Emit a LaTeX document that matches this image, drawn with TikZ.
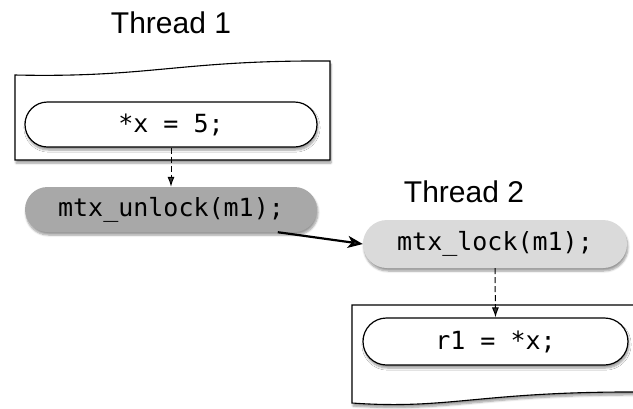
\documentclass[tikz,border=0pt]{standalone}
\usepackage{fontspec}
\setmainfont{Liberation Sans}
\setmonofont{DejaVu Sans Mono}
\usetikzlibrary{shapes.misc,shadows.blur,arrows.meta}
\definecolor{darkfill}{RGB}{168,168,168}
\definecolor{lightfill}{RGB}{218,218,218}
\tikzset{
  stmt/.style={rounded rectangle, minimum width=292pt, minimum height=45pt, inner sep=0pt,
    font=\ttfamily\fontsize{25}{29}\selectfont,
    blur shadow={shadow blur steps=6, shadow xshift=1pt, shadow yshift=-3pt, shadow opacity=40}},
  whitestmt/.style={stmt, draw=black, line width=1.2pt, fill=white},
  syncstmt/.style={stmt, draw=none},
  title/.style={font=\fontsize{30}{34}\selectfont, inner sep=0pt, anchor=base},
  thread/.style={draw=black, line width=1.1pt, fill=white,
    blur shadow={shadow blur steps=6, shadow xshift=1pt, shadow yshift=-3pt, shadow opacity=40}},
  po/.style={dash pattern=on 6pt off 3pt, line width=1pt, -{Latex[length=10pt,width=7pt]}},
  sw/.style={line width=2.2pt, -{Stealth[length=15pt,width=12pt,inset=4pt]}}
}
\begin{document}
\begin{tikzpicture}[x=1pt,y=-1pt]
\useasboundingbox (0,0) rectangle (633,408);
\clip (0,0) rectangle (633,408);
% Thread 1
\node[title] (t1) at (171,33) {Thread 1};
\path[thread] (15,160) -- (15,75) .. controls (150,78) and (180,60) .. (330,61) -- (330,160) -- cycle;
\node[whitestmt] (s1) at (171,124.5) {*x = 5;};
\node[syncstmt, fill=darkfill] (unlock) at (171,209.5) {mtx\_unlock(m1);};
% Thread 2
\node[title] (t2) at (464,202) {Thread 2};
\node[syncstmt, fill=lightfill, minimum width=264pt, minimum height=48pt] (lock) at (495,244) {mtx\_lock(m1);};
\path[thread] (645,305) -- (352,305) -- (352,403) .. controls (450,410) and (480,391) .. (645,392) -- cycle;
\node[whitestmt, minimum width=265pt, minimum height=47pt] (s2) at (495.5,341.5) {r1 = *x;};
% connectors
\draw[po] (s1.south) -- (unlock.north);
\draw[po] (lock.south) -- (s2.north);
\draw[sw] (unlock.-12) -- (lock.west);
\end{tikzpicture}
\end{document}
